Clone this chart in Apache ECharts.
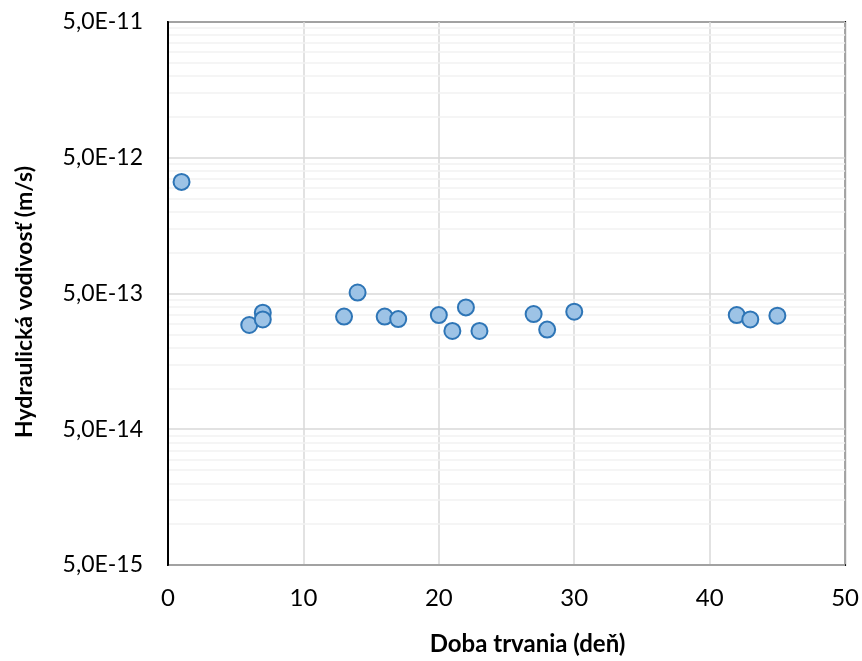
<!DOCTYPE html>
<html>
<head>
<meta charset="utf-8">
<script src="https://cdn.jsdelivr.net/npm/echarts@6/dist/echarts.min.js"></script>
<style>
  html, body { margin: 0; padding: 0; background: #ffffff; }
  #chart { width: 862px; height: 661px; }
</style>
</head>
<body>
<div id="chart"></div>
<script>
// Test duration in days and the measured hydraulic conductivity (m/s)
const days = [1, 6, 7, 7, 13, 14, 16, 17, 20, 21, 22, 23, 27, 28, 30, 42, 43, 45];
const conductivity = [
  3.32e-12, 2.93e-13, 3.61e-13, 3.22e-13, 3.38e-13, 5.08e-13,
  3.38e-13, 3.24e-13, 3.47e-13, 2.65e-13, 3.95e-13, 2.65e-13,
  3.53e-13, 2.71e-13, 3.67e-13, 3.47e-13, 3.22e-13, 3.43e-13
];

// Axis ticks
const xTicks = [0, 10, 20, 30, 40, 50];
const yMajorTicks = [5e-15, 5e-14, 5e-13, 5e-12, 5e-11];
const yTickLabels = ['5,0E-15', '5,0E-14', '5,0E-13', '5,0E-12', '5,0E-11'];
const yMinorMultipliers = [2, 3, 4, 5, 6, 7, 8, 9];

const xTitle = 'Doba trvania (deň)';
const yTitle = 'Hydraulická vodivosť (m/s)';

const font = 'Lato, "Open Sans", sans-serif';

// minor log gridlines: each major value times 2..9 inside its decade
const yMinorTicks = [];
yMajorTicks.slice(0, -1).forEach(function (m) {
  yMinorMultipliers.forEach(function (k) { yMinorTicks.push(m * k); });
});

function yLabel(v) {
  for (let i = 0; i < yMajorTicks.length; i++) {
    if (Math.abs(v / yMajorTicks[i] - 1) < 1e-6) return yTickLabels[i];
  }
  return '';
}

const points = days.map(function (d, i) { return [d, conductivity[i]]; });

const chart = echarts.init(document.getElementById('chart'), null, { renderer: 'canvas' });
chart.setOption({
  animation: false,
  backgroundColor: '#ffffff',
  grid: {
    left: 168, top: 22, right: 16, bottom: 93,
    show: true, borderColor: '#000000', borderWidth: 2, backgroundColor: 'transparent'
  },
  // vertical axis title, centred on the chart area rather than the plot
  graphic: [{
    type: 'text',
    x: 25, y: 302,
    rotation: Math.PI / 2,
    style: {
      text: yTitle,
      fontFamily: font, fontWeight: 'bold', fontSize: 23, fill: '#000',
      align: 'center', verticalAlign: 'middle'
    }
  }],
  xAxis: {
    type: 'value',
    min: xTicks[0], max: xTicks[xTicks.length - 1], interval: 10,
    name: xTitle,
    nameLocation: 'middle',
    nameGap: 67,
    nameTextStyle: { fontFamily: font, fontWeight: 'bold', fontSize: 24, color: '#000', padding: [0, 0, 0, 42] },
    axisLine: { show: true, lineStyle: { color: '#000', width: 2 } },
    axisTick: { show: false },
    axisLabel: { fontFamily: font, fontSize: 24, color: '#000', margin: 21 },
    splitLine: { show: true, lineStyle: { color: '#d9d9d9', width: 1.5 } }
  },
  yAxis: [{
    type: 'log',
    logBase: 10,
    min: yMajorTicks[0], max: yMajorTicks[yMajorTicks.length - 1],
    axisLine: { show: true, lineStyle: { color: '#000', width: 2 } },
    axisTick: { show: false, customValues: yMajorTicks },
    axisLabel: { customValues: yMajorTicks, formatter: yLabel, fontFamily: font, fontSize: 23, color: '#000', margin: 25 },
    splitLine: { show: true, lineStyle: { color: '#d9d9d9', width: 1.5 } },
    z: 2
  }, {
    type: 'log',
    logBase: 10,
    min: yMajorTicks[0], max: yMajorTicks[yMajorTicks.length - 1],
    position: 'left',
    axisLine: { show: false },
    axisTick: { show: false, customValues: yMinorTicks },
    axisLabel: { show: false, customValues: yMinorTicks },
    splitLine: { show: true, lineStyle: { color: '#f2f2f2', width: 1.5 } },
    z: 1
  }],
  series: [{
    type: 'scatter',
    yAxisIndex: 0,
    data: points,
    symbol: 'circle',
    symbolSize: 16,
    itemStyle: { color: '#9dc3e6', borderColor: '#2e75b6', borderWidth: 2, opacity: 1 },
    z: 5
  }]
});
</script>
</body>
</html>
